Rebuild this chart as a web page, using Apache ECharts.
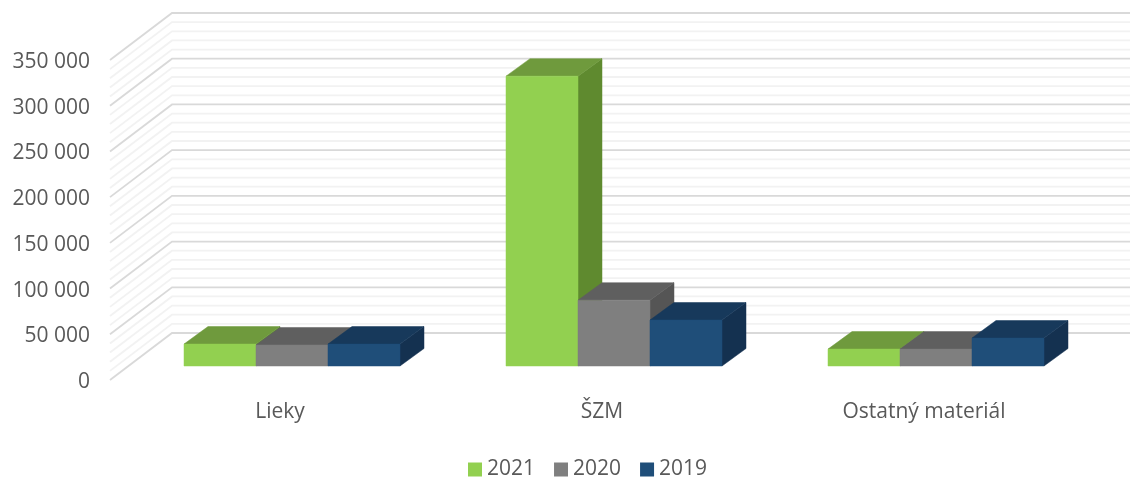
<!DOCTYPE html>
<html><head><meta charset="utf-8">
<style>html,body{margin:0;padding:0;background:#fff}#c{width:1130px;height:477px}</style>
<script src="https://cdn.jsdelivr.net/npm/echarts@6/dist/echarts.min.js"></script>
</head><body><div id="c"></div>
<script>
const categories = ['Lieky', 'ŠZM', 'Ostatný materiál'];
const seriesNames = ['2021', '2020', '2019'];
const values2021 = [24000, 317000, 18500];
const values2020 = [23000, 72000, 18500];
const values2019 = [24000, 50300, 30600];
const majorTicks = [0, 50000, 100000, 150000, 200000, 250000, 300000, 350000];
const minorTicks = [10000,20000,30000,40000,60000,70000,80000,90000,110000,120000,130000,140000,160000,170000,180000,190000,210000,220000,230000,240000,260000,270000,280000,290000,310000,320000,330000,340000];
const frontColors = ['#92D050', '#7F7F7F', '#1F4E79'];
const topColors = ['#6F9A3D', '#5F5F5F', '#17395B'];
const sideColors = ['#5F8A2F', '#555555', '#143150'];

const FONT = '"Open Sans"';
const WALL = {left: -9, dx: 62, dy: -47};
const BAR = {shift: 12, width: 72, floor: 14, dx: 24, dy: -17.5};

function wallItem(color, width) {
  return function (params, api) {
    const cs = params.coordSys;
    const y = api.coord([0, api.value(1)])[1];
    const x0 = cs.x + WALL.left;
    return {
      type: 'polyline',
      shape: {points: [[x0, y], [x0 + WALL.dx, y + WALL.dy], [api.getWidth(), y + WALL.dy]]},
      style: {fill: null, stroke: color, lineWidth: width},
      silent: true
    };
  };
}
function barItem(i) {
  return function (params, api) {
    const p = api.coord([api.value(0), api.value(1)]);
    const b = api.coord([api.value(0), 0]);
    const x = p[0] + BAR.shift + (i - 1.5) * BAR.width;
    const r = x + BAR.width;
    const top = p[1] - BAR.floor;
    const bot = b[1] - BAR.floor;
    const poly = (pts, c) => ({type: 'polygon', shape: {points: pts}, style: {fill: c, stroke: c, lineWidth: 0.5}});
    return {type: 'group', children: [
      poly([[r, top], [r + BAR.dx, top + BAR.dy], [r + BAR.dx, bot + BAR.dy], [r, bot]], sideColors[i]),
      poly([[x, top], [x + BAR.dx, top + BAR.dy], [r + BAR.dx, top + BAR.dy], [r, top]], topColors[i]),
      poly([[x, top], [r, top], [r, bot], [x, bot]], frontColors[i])
    ]};
  };
}
const barData = [values2021, values2020, values2019];
const option = {
  animation: false,
  backgroundColor: '#fff',
  textStyle: {fontFamily: FONT},
  legend: {
    data: seriesNames.map((n, i) => ({name: n, icon: 'rect', itemStyle: {color: frontColors[i]}})),
    top: 454, left: 463, itemWidth: 14, itemHeight: 14, itemGap: 19,
    textStyle: {fontFamily: FONT, fontSize: 21, color: '#595959'}
  },
  grid: {left: 119, top: 60, width: 966, bottom: 97, containLabel: false},
  xAxis: {type: 'category', data: categories,
    axisLine: {show: false}, axisTick: {show: false}, splitLine: {show: false},
    axisLabel: {color: '#595959', fontFamily: FONT, fontSize: 21, margin: 22}},
  yAxis: {type: 'value', min: 0, max: 350000, interval: 50000,
    axisLine: {show: false}, axisTick: {show: false}, splitLine: {show: false},
    axisLabel: {margin: 29,
      rich: {t: {color: '#595959', fontFamily: FONT, fontSize: 21, padding: [4, 0, 0, 0]}},
      formatter: v => '{t|' + String(v).replace(/\B(?=(\d{3})+$)/g, ' ') + '}'}},
  series: [
    {type: 'custom', name: 'minor', z: 1, silent: true, renderItem: wallItem('#F2F2F2', 1.8), data: minorTicks.map(v => [0, v]), encode: {x: 0, y: 1}},
    {type: 'custom', name: 'major', z: 2, silent: true, renderItem: wallItem('#D9D9D9', 1.8), data: majorTicks.map(v => [0, v]), encode: {x: 0, y: 1}}
  ].concat(seriesNames.map((n, i) => ({
    type: 'custom', name: n, z: 3 + i, renderItem: barItem(i),
    itemStyle: {color: frontColors[i]},
    data: barData[i].map((v, k) => [k, v]), encode: {x: 0, y: 1}
  })))
};
const chart = echarts.init(document.getElementById('c'), null, {renderer: 'canvas'});
chart.setOption(option);
</script></body></html>
